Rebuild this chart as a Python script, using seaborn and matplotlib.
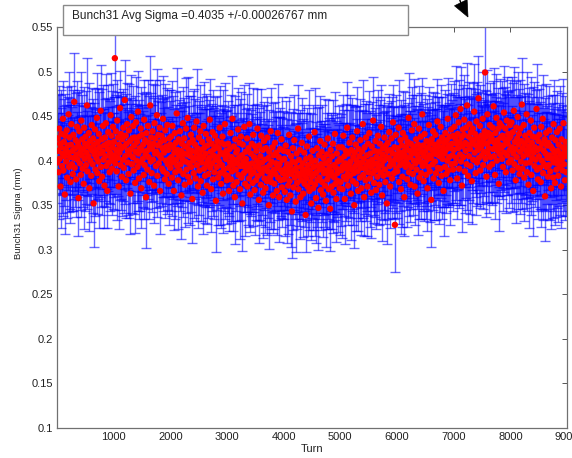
import numpy as np
import pandas as pd
import matplotlib
matplotlib.use("Agg")
import matplotlib.pyplot as plt
import seaborn as sns
from matplotlib.patches import Rectangle, Polygon
from matplotlib.lines import Line2D
from matplotlib.ticker import FormatStrFormatter

sns.set_theme(style="white")
plt.rcParams["font.family"] = ["Liberation Sans", "DejaVu Sans"]

# Fitted bunch sigma per sample, in micrometres (1/1000 mm), in turn order
sigma_um = [
    398, 425, 411, 387, 436, 402, 419, 371, 415, 430, 394, 408, 447, 389, 421, 405, 362, 428, 413, 399,
    434, 381, 417, 409, 452, 393, 426, 404, 376, 418, 441, 396, 411, 385, 429, 403, 466, 392, 414, 423,
    379, 407, 438, 401, 420, 358, 416, 433, 397, 410, 384, 445, 406, 424, 391, 413, 374, 437, 402, 419,
    427, 395, 409, 462, 388, 416, 405, 431, 369, 422, 400, 414, 383, 440, 411, 396, 425, 352, 418, 407,
    435, 390, 412, 403, 448, 386, 421, 399, 430, 377, 415, 408, 456, 393, 424, 382, 410, 439, 401, 417,
    372, 426, 405, 442, 394, 419, 366, 413, 432, 398, 420, 387, 409, 451, 404, 428, 391, 415, 438, 400,
    421, 406, 515, 397, 433, 412, 388, 445, 403, 426, 371, 418, 409, 459, 395, 430, 414, 382, 424, 401,
    437, 392, 416, 468, 405, 428, 378, 419, 441, 398, 411, 385, 434, 407, 422, 363, 413, 449, 396, 425,
    404, 439, 389, 417, 426, 375, 410, 443, 400, 421, 393, 455, 408, 380, 427, 414, 398, 436, 369, 412,
    429, 402, 418, 384, 446, 395, 423, 407, 359, 431, 411, 390, 439, 404, 420, 376, 415, 462, 399, 426,
    386, 413, 433, 401, 419, 372, 442, 408, 425, 394, 410, 451, 383, 417, 429, 397, 406, 437, 366, 421,
    403, 428, 391, 414, 447, 388, 409, 423, 379, 434, 400, 416, 385, 440, 396, 412, 374, 425, 402, 418,
    392, 427, 404, 381, 439, 398, 415, 366, 409, 431, 387, 420, 401, 453, 394, 412, 378, 424, 406, 389,
    433, 396, 411, 361, 419, 402, 442, 385, 408, 425, 373, 416, 399, 436, 390, 407, 448, 382, 413, 397,
    420, 376, 405, 429, 393, 411, 357, 423, 400, 386, 437, 403, 418, 380, 409, 444, 395, 414, 371, 402,
    426, 389, 406, 433, 377, 412, 398, 421, 364, 404, 439, 391, 415, 383, 408, 430, 396, 372, 417, 400,
    385, 424, 403, 446, 392, 410, 368, 419, 397, 432, 379, 406, 413, 387, 428, 401, 355, 416, 393, 422,
    404, 381, 414, 399, 437, 386, 409, 374, 420, 395, 427, 363, 407, 390, 418, 441, 384, 402, 411, 378,
    407, 383, 419, 392, 366, 413, 398, 431, 379, 404, 388, 447, 395, 372, 416, 401, 359, 424, 390, 409,
    376, 412, 397, 435, 384, 403, 420, 368, 394, 427, 381, 406, 352, 418, 399, 386, 438, 393, 374, 410,
    402, 389, 425, 371, 396, 414, 380, 441, 391, 362, 408, 385, 419, 397, 375, 429, 387, 404, 367, 416,
    393, 378, 411, 400, 436, 383, 395, 356, 417, 390, 405, 373, 428, 386, 398, 412, 364, 391, 422, 380,
    401, 369, 414, 392, 377, 426, 388, 403, 350, 410, 395, 382, 433, 376, 399, 387, 415, 361, 406, 390,
    374, 420, 385, 397, 409, 366, 392, 431, 381, 404, 359, 396, 413, 378, 389, 424, 370, 401, 386, 411,
    379, 402, 365, 391, 417, 383, 356, 396, 410, 372, 388, 429, 377, 394, 361, 405, 385, 343, 399, 414,
    370, 389, 423, 381, 398, 354, 392, 408, 375, 386, 436, 368, 401, 383, 412, 359, 393, 378, 420, 387,
    397, 363, 384, 409, 374, 390, 339, 402, 380, 416, 371, 395, 386, 427, 366, 389, 404, 376, 352, 399,
    382, 411, 369, 393, 385, 432, 373, 400, 358, 387, 414, 378, 394, 347, 406, 381, 390, 422, 367, 396,
    410, 376, 391, 362, 403, 386, 418, 372, 397, 355, 389, 407, 379, 425, 384, 368, 400, 393, 346, 412,
    388, 371, 405, 383, 419, 364, 395, 381, 430, 374, 392, 357, 408, 386, 399, 377, 415, 390, 369, 402,
    376, 401, 389, 415, 368, 394, 428, 382, 405, 357, 397, 411, 379, 391, 437, 385, 372, 408, 395, 420,
    383, 399, 363, 412, 390, 426, 377, 404, 386, 350, 409, 394, 418, 374, 400, 433, 388, 366, 413, 397,
    405, 381, 423, 392, 369, 410, 398, 441, 384, 402, 359, 415, 391, 378, 426, 395, 406, 371, 419, 387,
    399, 431, 380, 408, 393, 364, 416, 401, 386, 445, 396, 375, 411, 389, 422, 367, 404, 397, 382, 428,
    392, 410, 373, 419, 402, 387, 438, 395, 361, 407, 414, 383, 400, 426, 390, 376, 417, 404, 352, 411,
    420, 385, 403, 432, 394, 371, 412, 399, 425, 380, 408, 443, 396, 386, 415, 328, 402, 429, 391, 407,
    388, 414, 401, 437, 376, 409, 395, 423, 368, 404, 417, 382, 431, 398, 410, 359, 406, 426, 393, 415,
    402, 379, 421, 396, 448, 387, 411, 404, 373, 419, 393, 434, 408, 385, 416, 400, 441, 371, 412, 397,
    424, 390, 407, 363, 418, 403, 436, 381, 413, 399, 427, 386, 409, 452, 394, 417, 377, 405, 430, 398,
    411, 384, 422, 401, 369, 415, 393, 440, 406, 388, 419, 403, 356, 424, 412, 396, 433, 380, 408, 418,
    399, 429, 386, 413, 407, 444, 392, 416, 375, 421, 405, 391, 438, 410, 383, 426, 402, 415, 366, 420,
    408, 393, 431, 412, 385, 423, 400, 447, 389, 417, 404, 427, 378, 414, 435, 396, 419, 406, 390, 428,
    412, 438, 397, 425, 451, 403, 419, 380, 430, 414, 443, 391, 421, 407, 458, 399, 426, 372, 416, 435,
    404, 429, 446, 388, 420, 411, 437, 396, 462, 418, 383, 427, 405, 441, 413, 394, 432, 424, 377, 419,
    436, 401, 423, 455, 409, 430, 386, 417, 444, 398, 426, 412, 470, 403, 421, 439, 389, 415, 428, 406,
    418, 447, 395, 424, 410, 433, 499, 402, 427, 382, 419, 452, 408, 431, 414, 393, 440, 422, 404, 429,
    425, 396, 437, 413, 461, 405, 420, 384, 431, 416, 448, 400, 423, 411, 436, 374, 418, 442, 407, 426,
    414, 439, 402, 428, 393, 417, 454, 409, 424, 436, 387, 421, 445, 406, 419, 430, 398, 425, 412, 440,
    427, 401, 443, 415, 389, 432, 408, 456, 396, 421, 413, 378, 437, 404, 425, 449, 392, 418, 430, 385,
    410, 436, 399, 422, 463, 391, 414, 405, 440, 381, 419, 428, 397, 411, 452, 387, 423, 407, 373, 416,
    431, 398, 412, 445, 384, 420, 403, 427, 366, 409, 437, 394, 415, 401, 426, 458, 390, 412, 379, 422,
    405, 429, 392, 414, 376, 438, 400, 419, 447, 386, 411, 396, 424, 360, 408, 431, 393, 417, 403, 382,
    420, 395, 434, 406, 388, 416, 369, 402, 426, 413, 381, 441, 398, 409, 375, 423, 404, 390, 432, 397,
    411, 383, 418, 400, 436, 393, 407, 371, 424, 402, 389, 415, 442, 396, 410, 378, 421, 405, 387, 414,
]

# Fit uncertainty on each sigma, in micrometres
sigma_err_um = [
    46, 50, 43, 52, 48, 41, 55, 47, 44, 49, 53, 45, 42, 51, 48, 56, 44, 47, 50, 43,
    49, 45, 54, 42, 47, 51, 44, 58, 46, 48, 43, 52, 49, 41, 50, 46, 55, 44, 48, 53,
    42, 48, 51, 45, 57, 43, 49, 46, 52, 40, 47, 54, 45, 50, 43, 48, 51, 46, 59, 44,
    51, 44, 47, 53, 42, 49, 45, 56, 48, 43, 50, 46, 52, 41, 48, 55, 44, 49, 47, 51,
    45, 52, 43, 48, 50, 46, 60, 42, 47, 53, 44, 49, 51, 45, 56, 43, 48, 46, 52, 41,
    48, 43, 50, 55, 46, 51, 42, 47, 53, 45, 49, 44, 58, 47, 41, 50, 52, 45, 48, 54,
    50, 47, 44, 52, 41, 49, 55, 46, 43, 51, 48, 45, 53, 42, 50, 47, 57, 44, 49, 46,
    43, 51, 48, 45, 54, 47, 42, 50, 46, 59, 44, 49, 52, 41, 48, 45, 51, 47, 55, 43,
    52, 45, 49, 42, 47, 56, 44, 51, 48, 43, 50, 46, 53, 45, 41, 49, 54, 47, 44, 51,
    47, 54, 41, 50, 45, 48, 52, 43, 57, 46, 49, 44, 51, 47, 53, 42, 48, 55, 45, 50,
    44, 49, 53, 46, 51, 42, 48, 45, 60, 47, 43, 52, 46, 50, 44, 49, 41, 53, 48, 45,
    51, 46, 42, 55, 48, 44, 50, 47, 43, 52, 49, 56, 45, 41, 51, 48, 46, 54, 43, 49,
    48, 52, 45, 43, 50, 47, 58, 44, 49, 46, 53, 42, 48, 51, 45, 47, 55, 44, 50, 46,
    45, 43, 51, 49, 46, 54, 41, 48, 52, 45, 47, 50, 44, 57, 49, 43, 46, 52, 48, 42,
    53, 48, 46, 44, 51, 42, 49, 55, 47, 50, 43, 46, 51, 48, 45, 59, 44, 49, 47, 52,
    41, 50, 47, 52, 45, 48, 44, 51, 46, 54, 49, 42, 47, 53, 50, 45, 48, 43, 56, 47,
    49, 44, 55, 46, 42, 51, 48, 45, 53, 47, 41, 50, 46, 52, 44, 49, 57, 45, 48, 51,
    46, 53, 43, 49, 47, 58, 45, 50, 42, 48, 52, 44, 51, 47, 43, 46, 50, 54, 45, 49,
    50, 42, 48, 54, 45, 47, 51, 43, 49, 46, 56, 48, 44, 51, 47, 42, 53, 49, 46, 45,
    44, 51, 46, 47, 52, 43, 49, 56, 45, 50, 48, 41, 53, 46, 49, 44, 47, 51, 58, 48,
    52, 47, 50, 43, 48, 45, 54, 46, 51, 42, 49, 47, 44, 55, 48, 52, 45, 43, 50, 46,
    47, 45, 53, 49, 44, 51, 46, 48, 42, 57, 50, 45, 52, 47, 43, 49, 51, 46, 44, 54,
    43, 50, 48, 45, 60, 46, 52, 44, 49, 47, 41, 51, 48, 53, 46, 45, 50, 42, 49, 47,
    51, 46, 44, 52, 47, 49, 43, 55, 48, 45, 50, 53, 46, 42, 51, 48, 44, 47, 52, 45,
    45, 53, 49, 46, 50, 42, 48, 51, 44, 54, 47, 43, 49, 46, 58, 50, 45, 52, 47, 44,
    48, 44, 51, 47, 43, 56, 50, 45, 52, 46, 49, 41, 53, 48, 45, 47, 51, 44, 50, 55,
    50, 49, 45, 53, 48, 46, 42, 51, 47, 43, 55, 49, 46, 52, 44, 48, 50, 45, 41, 53,
    46, 52, 47, 44, 51, 49, 57, 43, 50, 48, 45, 52, 42, 47, 54, 46, 49, 51, 45, 48,
    53, 45, 50, 48, 42, 47, 51, 46, 44, 52, 49, 47, 56, 43, 50, 45, 48, 53, 47, 41,
    44, 48, 46, 51, 49, 45, 53, 50, 47, 41, 52, 48, 45, 49, 43, 57, 46, 50, 52, 47,
    49, 51, 43, 47, 55, 48, 46, 44, 52, 50, 45, 53, 47, 42, 51, 48, 44, 49, 46, 54,
    47, 43, 52, 50, 46, 44, 49, 58, 45, 48, 51, 46, 43, 53, 47, 50, 52, 45, 48, 42,
    51, 49, 46, 45, 52, 47, 43, 50, 48, 54, 44, 49, 51, 46, 41, 52, 48, 55, 45, 49,
    42, 47, 54, 48, 45, 51, 50, 46, 43, 49, 57, 45, 48, 52, 50, 44, 47, 46, 53, 51,
    48, 52, 45, 49, 44, 53, 47, 41, 51, 46, 48, 50, 55, 45, 49, 47, 43, 52, 46, 50,
    45, 50, 48, 43, 51, 46, 55, 49, 47, 44, 52, 42, 49, 51, 46, 53, 48, 45, 50, 43,
    52, 46, 49, 54, 47, 42, 51, 45, 50, 48, 44, 56, 47, 49, 52, 43, 46, 51, 48, 45,
    47, 53, 44, 48, 50, 49, 45, 52, 42, 51, 47, 49, 44, 46, 58, 48, 51, 43, 49, 46,
    50, 44, 51, 46, 43, 54, 48, 47, 53, 45, 49, 52, 46, 41, 50, 47, 45, 53, 44, 52,
    44, 49, 47, 52, 48, 45, 50, 43, 51, 57, 46, 48, 53, 49, 45, 51, 44, 47, 50, 48,
    49, 47, 53, 45, 51, 48, 44, 55, 46, 50, 42, 49, 47, 52, 48, 46, 54, 45, 51, 43,
    53, 45, 48, 50, 44, 52, 49, 46, 41, 48, 54, 47, 50, 45, 51, 43, 49, 56, 46, 48,
    46, 51, 44, 49, 55, 47, 52, 45, 50, 46, 48, 44, 51, 57, 47, 49, 45, 52, 43, 50,
    48, 43, 50, 47, 49, 53, 45, 51, 48, 44, 52, 46, 49, 47, 43, 54, 50, 46, 48, 52,
    51, 48, 46, 53, 45, 50, 47, 58, 44, 49, 51, 45, 47, 52, 49, 46, 42, 51, 48, 55,
    45, 52, 49, 44, 50, 46, 53, 48, 51, 45, 47, 50, 56, 44, 49, 52, 47, 45, 51, 46,
    49, 46, 52, 48, 43, 51, 47, 50, 45, 55, 49, 48, 44, 51, 46, 53, 48, 50, 47, 44,
    47, 50, 45, 54, 49, 48, 52, 44, 51, 47, 46, 53, 49, 45, 58, 48, 51, 47, 43, 50,
    52, 48, 51, 46, 47, 55, 45, 49, 53, 50, 44, 48, 52, 47, 49, 51, 46, 54, 50, 45,
    46, 54, 47, 50, 52, 45, 51, 48, 46, 49, 57, 45, 50, 53, 47, 44, 52, 49, 48, 51,
    50, 47, 53, 49, 45, 52, 48, 56, 50, 47, 51, 46, 49, 44, 53, 50, 47, 52, 45, 49,
    48, 51, 46, 52, 50, 47, 54, 45, 49, 53, 48, 51, 46, 50, 47, 55, 49, 44, 52, 48,
    53, 49, 50, 47, 55, 48, 46, 51, 48, 52, 45, 50, 54, 49, 47, 51, 48, 53, 46, 50,
    49, 52, 47, 51, 48, 54, 50, 46, 52, 49, 51, 47, 50, 53, 48, 45, 52, 50, 49, 47,
]

total_turns = 9000
x_ticks = [1000, 2000, 3000, 4000, 5000, 6000, 7000, 8000, 9000]
y_ticks = [0.1, 0.15, 0.2, 0.25, 0.3, 0.35, 0.4, 0.45, 0.5, 0.55]
x_label = "Turn"
y_label = "Bunch31 Sigma (mm)"
summary_text = "Bunch31 Avg Sigma =0.4035 +/-0.00026767 mm"

sigma = np.array(sigma_um) / 1000.0
sigma_err = np.array(sigma_err_um) / 1000.0
turn = (np.arange(len(sigma)) + 0.5) * total_turns / len(sigma)
df = pd.DataFrame({"turn": turn, "sigma": sigma, "err": sigma_err})

W, H = 572, 458
fig = plt.figure(figsize=(W / 100, H / 100), dpi=100)
ax = fig.add_axes([57 / W, 30 / H, 510 / W, 401 / H])

# error bars first, fitted values on top
bar_blue = (0.0, 0.0, 1.0, 0.6)
eb = ax.errorbar(df["turn"], df["sigma"], yerr=df["err"], fmt="none",
                 ecolor=bar_blue, elinewidth=1.0,
                 capsize=3.6, capthick=1.0, zorder=2)
for cap in eb[1]:
    cap.set_color(bar_blue)
    cap.set_markeredgecolor(bar_blue)
    cap.set_markerfacecolor(bar_blue)
sns.scatterplot(data=df, x="turn", y="sigma", ax=ax, color="#ff0000",
                s=21, linewidth=0, edgecolor="none", zorder=3, legend=False)

ax.set_xlim(0, total_turns)
ax.set_ylim(0.1, 0.55)
ax.set_xticks(x_ticks)
ax.set_yticks(y_ticks)
ax.yaxis.set_major_formatter(FormatStrFormatter("%g"))
ax.tick_params(direction="in", length=3.5, width=0.7, top=True, right=True,
               labelsize=8, colors="#555555", labelcolor="#222222", pad=3)
for sp in ax.spines.values():
    sp.set_color("#707070")
    sp.set_linewidth(0.9)
ax.set_xlabel(x_label, fontsize=8, color="#222222", labelpad=1)
ax.set_ylabel(y_label, fontsize=6.8, color="#222222")
ax.yaxis.set_label_coords(-0.066, 0.535)
ax.set_facecolor("white")

# summary box over the top-left of the axes
box = Rectangle((63 / W, 1 - 35 / H), (408 - 63) / W, 30 / H,
                transform=fig.transFigure, facecolor="white",
                edgecolor="#8a8a8a", linewidth=1.0, zorder=10)
fig.add_artist(box)
fig.text(72 / W, 1 - 16 / H, summary_text, fontsize=8.5, color="#222222",
         ha="left", va="center", zorder=11)

# pointer arrow above the axes
def px(x, y):
    return (x / W, 1 - y / H)

head = Polygon([px(468, 17), px(454.5, 5.8), px(467.1, -0.4)], closed=True,
               transform=fig.transFigure, facecolor="black", edgecolor="black",
               linewidth=0.5, zorder=12)
fig.add_artist(head)
tail = Line2D([px(460.8, 2.7)[0], px(458, -5)[0]], [px(460.8, 2.7)[1], px(458, -5)[1]],
              transform=fig.transFigure, color="black", linewidth=1.0, zorder=12)
fig.add_artist(tail)

fig.savefig("out.png", dpi=100, facecolor="white")
